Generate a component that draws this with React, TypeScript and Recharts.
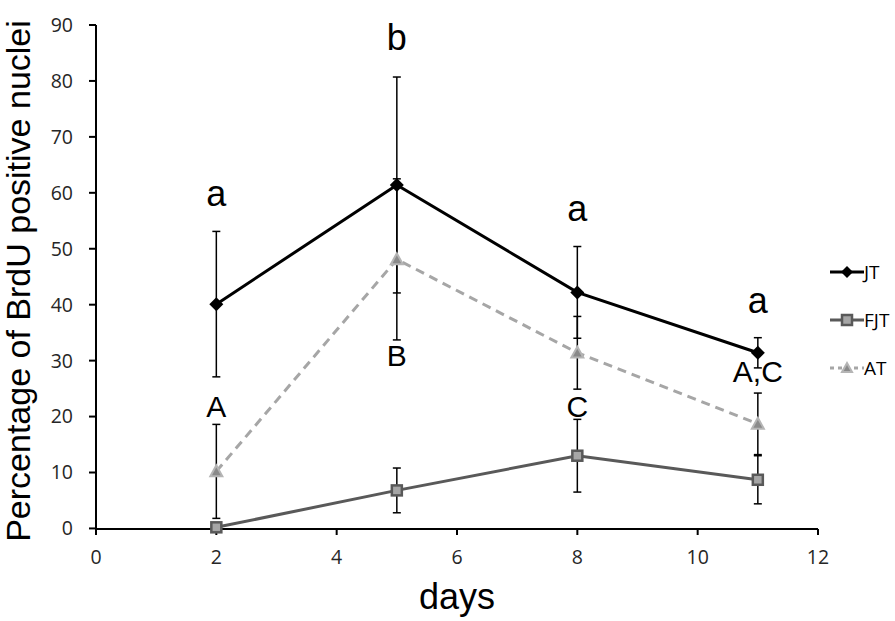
import { ComposedChart, Line, Scatter, XAxis, YAxis, ErrorBar, Legend, Label } from 'recharts';

// days after treatment
const days = [2, 5, 8, 11];

// mean % BrdU positive nuclei and error (SD) per group
const jtValues = [40.1, 61.4, 42.2, 31.4];
const jtErrors = [13, 19.3, 8.2, 2.7];
const fjtValues = [0.2, 6.8, 13, 8.7];
const fjtErrors = [0.3, 4, 6.5, 4.3];
const atValues = [10.2, 48.1, 31.4, 18.7];
const atErrors = [8.4, 14.4, 6.5, 5.5];

const xTicks = [0, 2, 4, 6, 8, 10, 12];
const yTicks = [0, 10, 20, 30, 40, 50, 60, 70, 80, 90];

// significance letters (baseline value on y axis)
const lowerLetters = ['a', 'b', 'a', 'a'];
const lowerLetterY = [57.6, 85.6, 54.9, 38.5];
const upperLetters = ['A', 'B', 'C', 'A,C'];
const upperLetterY = [20.0, 29.0, 20.0, 26.1];

const W = 895;
const H = 621;
const TITLE_FONT = '"Liberation Sans", Arial, sans-serif';
const TICK_FONT = '"Open Sans", sans-serif';

const JT_COLOR = '#000000';
const FJT_COLOR = '#595959';
const AT_COLOR = '#a6a6a6';

const rows = days.map((d, i) => ({
  day: d,
  JT: jtValues[i],
  jtErr: jtErrors[i],
  FJT: fjtValues[i],
  fjtErr: fjtErrors[i],
  AT: atValues[i],
  atErr: atErrors[i],
}));

const lowerNotes = days.map((d, i) => ({ day: d, y: lowerLetterY[i], text: lowerLetters[i] }));
const upperNotes = days.map((d, i) => ({ day: d, y: upperLetterY[i], text: upperLetters[i] }));

function Diamond({ cx, cy, size = 7 }: any) {
  if (cx == null || cy == null) return null;
  return <polygon points={`${cx},${cy - size} ${cx + size},${cy} ${cx},${cy + size} ${cx - size},${cy}`} fill={JT_COLOR} />;
}

function Square({ cx, cy, size = 5 }: any) {
  if (cx == null || cy == null) return null;
  return <rect x={cx - size} y={cy - size} width={size * 2} height={size * 2} fill="#a6a6a6" stroke={FJT_COLOR} strokeWidth={2.5} />;
}

function Triangle({ cx, cy, size = 6 }: any) {
  if (cx == null || cy == null) return null;
  return (
    <polygon
      points={`${cx},${cy - size} ${cx + size},${cy + size * 0.8} ${cx - size},${cy + size * 0.8}`}
      fill="#8a8a8a"
      stroke="#b5b5b5"
      strokeWidth={2}
    />
  );
}

const legendItems = [
  { name: 'JT', color: JT_COLOR, dash: undefined, Marker: Diamond },
  { name: 'FJT', color: FJT_COLOR, dash: undefined, Marker: Square },
  { name: 'AT', color: AT_COLOR, dash: '4 4', Marker: Triangle },
];

function renderLegend() {
  return (
    <div style={{ fontFamily: TICK_FONT, fontSize: 19, color: '#000' }}>
      {legendItems.map(({ name, color, dash, Marker }) => (
        <div key={name} style={{ display: 'flex', alignItems: 'center', height: 48 }}>
          <svg width={34} height={16} style={{ display: 'block' }}>
            <line x1={0} y1={8} x2={34} y2={8} stroke={color} strokeWidth={3} strokeDasharray={dash} />
            <Marker cx={17} cy={8} size={name === 'JT' ? 6 : 5} />
          </svg>
          <span style={{ lineHeight: '16px' }}>{name}</span>
        </div>
      ))}
    </div>
  );
}

function noteShape(size: number) {
  return (props: any) => {
    const { cx, cy, payload } = props;
    return (
      <text x={cx} y={cy} textAnchor="middle" fontSize={size} fontFamily={TITLE_FONT} fill="#000">
        {payload.text}
      </text>
    );
  };
}

export default function App() {
  return (
    <div style={{ position: 'absolute', left: 0, top: 0, width: W, height: H, background: '#fff' }}>
      <ComposedChart width={W} height={H} data={rows} margin={{ top: 25, right: 77, left: 0, bottom: 0 }}>
        <XAxis
          dataKey="day"
          type="number"
          domain={[0, 12]}
          ticks={xTicks}
          height={92}
          stroke="#000"
          strokeWidth={2}
          tickSize={6}
          tickMargin={15}
          tick={{ fontSize: 19.5, fontFamily: TICK_FONT, fill: '#262626' }}
        >
          <Label
            content={({ viewBox }: any) => (
              <text x={viewBox.x + viewBox.width / 2} y={viewBox.y + 80} textAnchor="middle" fontSize={36} fontFamily={TITLE_FONT} fill="#000">
                days
              </text>
            )}
          />
        </XAxis>
        <YAxis
          type="number"
          domain={[0, 90]}
          ticks={yTicks}
          width={96}
          stroke="#000"
          strokeWidth={2}
          tickSize={7}
          tickMargin={16}
          tick={{ fontSize: 19.5, fontFamily: TICK_FONT, fill: '#262626' }}
        >
          <Label
            content={({ viewBox }: any) => {
              const x = viewBox.x + 30;
              const y = viewBox.y + viewBox.height / 2 + 4;
              return (
                <text x={x} y={y} transform={`rotate(-90 ${x} ${y})`} textAnchor="middle" fontSize={34} fontFamily={TITLE_FONT} fill="#000">
                  Percentage of BrdU positive nuclei
                </text>
              );
            }}
          />
        </YAxis>
        <Legend
          layout="vertical"
          align="center"
          verticalAlign="middle"
          content={renderLegend}
          wrapperStyle={{ left: 830, top: 248, width: 65 }}
        />
        <Line
          dataKey="JT"
          stroke={JT_COLOR}
          strokeWidth={3}
          dot={<Diamond />}
          activeDot={false}
          isAnimationActive={false}
        >
          <ErrorBar dataKey="jtErr" direction="y" width={4} stroke="#000" strokeWidth={1.5} isAnimationActive={false} />
        </Line>
        <Line
          dataKey="FJT"
          stroke={FJT_COLOR}
          strokeWidth={3}
          dot={<Square />}
          activeDot={false}
          isAnimationActive={false}
        >
          <ErrorBar dataKey="fjtErr" direction="y" width={4} stroke="#000" strokeWidth={1.5} isAnimationActive={false} />
        </Line>
        <Line
          dataKey="AT"
          stroke={AT_COLOR}
          strokeWidth={3}
          strokeDasharray="9 6"
          dot={<Triangle />}
          activeDot={false}
          isAnimationActive={false}
        >
          <ErrorBar dataKey="atErr" direction="y" width={4} stroke="#000" strokeWidth={1.5} isAnimationActive={false} />
        </Line>
        <Scatter data={lowerNotes} dataKey="y" shape={noteShape(36)} legendType="none" isAnimationActive={false} />
        <Scatter data={upperNotes} dataKey="y" shape={noteShape(30)} legendType="none" isAnimationActive={false} />
      </ComposedChart>
    </div>
  );
}
